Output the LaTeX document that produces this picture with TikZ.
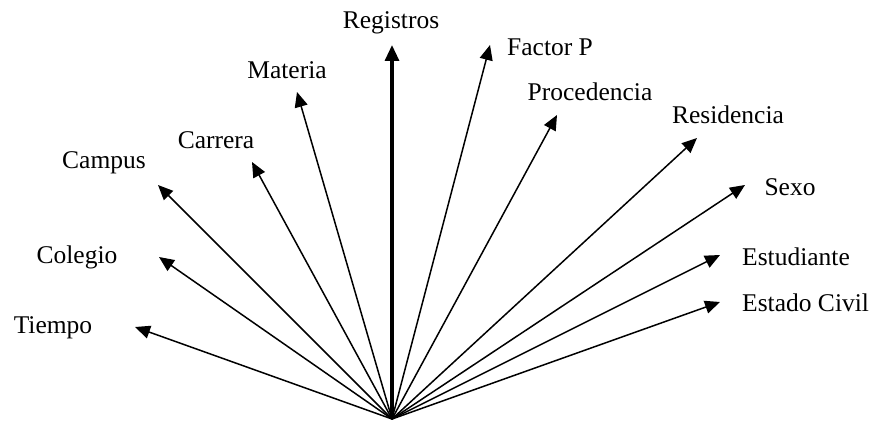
\documentclass[tikz,border=0pt]{standalone}
\usepackage{fontspec}
\setmainfont{Liberation Serif}
\usetikzlibrary{arrows.meta}
\begin{document}
\begin{tikzpicture}[x=1pt,y=-1pt,
  ray/.style={line width=1.5pt,-{Triangle[length=15pt,width=13pt]}},
  mainray/.style={line width=3.2pt,-{Triangle[length=16pt,width=14pt]}},
  lbl/.style={font=\fontsize{25.5}{28}\selectfont,inner sep=0pt,anchor=center}]
\useasboundingbox (0,0) rectangle (880,420);
\coordinate (O) at (392,419);
% tips
\coordinate (tTiempo) at (135,327);
\coordinate (tColegio) at (159,257);
\coordinate (tCampus) at (158,185);
\coordinate (tCarrera) at (252,162);
\coordinate (tMateria) at (297,92);
\coordinate (tRegistros) at (392,45);
\coordinate (tFactor) at (490,45);
\coordinate (tProcedencia) at (557,115);
\coordinate (tResidencia) at (697,138);
\coordinate (tSexo) at (745,185);
\coordinate (tEstudiante) at (720,255);
\coordinate (tEstado) at (720,302);
% labels
\node[lbl] (Registros) at (391,23) {Registros};
\node[lbl,anchor=west] (Factor) at (507,47) {Factor P};
\node[lbl] (Materia) at (287,70) {Materia};
\node[lbl] (Procedencia) at (590,92) {Procedencia};
\node[lbl] (Residencia) at (728,115) {Residencia};
\node[lbl] (Carrera) at (216,140) {Carrera};
\node[lbl] (Campus) at (104,163) {Campus};
\node[lbl] (Sexo) at (790,187) {Sexo};
\node[lbl] (Colegio) at (77,257) {Colegio};
\node[lbl,anchor=west] (Estudiante) at (742,257) {Estudiante};
\node[lbl,anchor=west] (Estado) at (742,303) {Estado Civil};
\node[lbl] (Tiempo) at (53,328) {Tiempo};
% rays
\draw[ray] (O) -- (tTiempo);
\draw[ray] (O) -- (tColegio);
\draw[ray] (O) -- (tCampus);
\draw[ray] (O) -- (tCarrera);
\draw[ray] (O) -- (tMateria);
\draw[mainray] (O) -- (tRegistros);
\draw[ray] (O) -- (tFactor);
\draw[ray] (O) -- (tProcedencia);
\draw[ray] (O) -- (tResidencia);
\draw[ray] (O) -- (tSexo);
\draw[ray] (O) -- (tEstudiante);
\draw[ray] (O) -- (tEstado);
\end{tikzpicture}
\end{document}
